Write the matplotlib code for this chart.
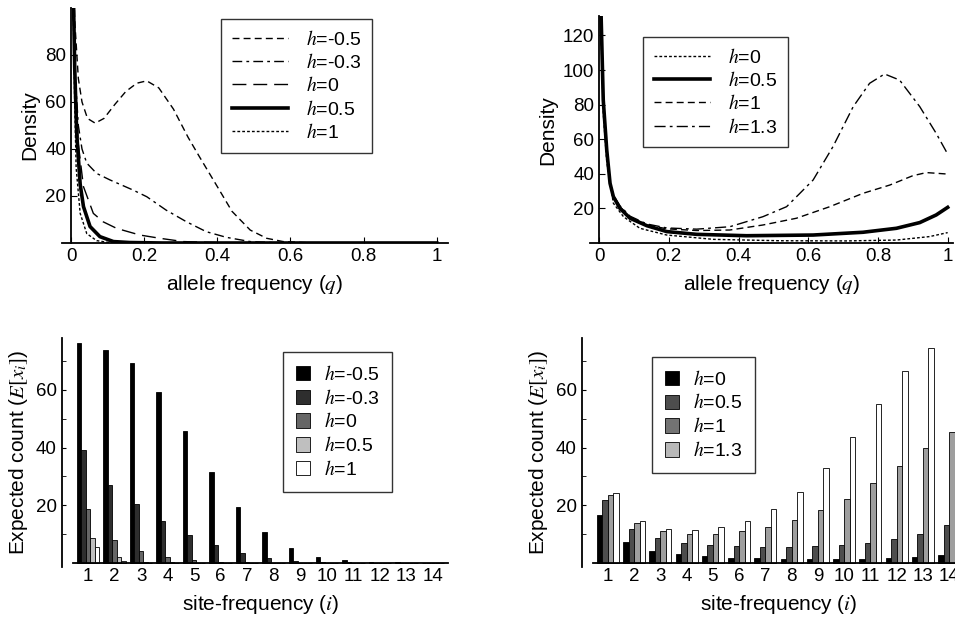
import numpy as np
import matplotlib
matplotlib.use("Agg")
import matplotlib.pyplot as plt
from matplotlib.patches import Patch

plt.rcParams['font.family'] = ['Liberation Sans', 'DejaVu Sans']
plt.rcParams['mathtext.fontset'] = 'stix'

# ---- top left: densities, h <= 1 ----
tl_labels = ["-0.5", "-0.3", "0", "0.5", "1"]
tl_q = {
    "-0.5": [0.002, 0.006, 0.01, 0.02, 0.03, 0.045, 0.066, 0.09, 0.12, 0.15, 0.18, 0.207,
             0.24, 0.28, 0.32, 0.35, 0.4, 0.44, 0.49, 0.535, 0.58, 0.65, 0.75, 1.0],
    "-0.3": [0.002, 0.006, 0.012, 0.02, 0.03, 0.043, 0.07, 0.107, 0.17, 0.207, 0.26,
             0.316, 0.37, 0.425, 0.49, 0.55, 0.65, 1.0],
    "0": [0.002, 0.006, 0.01, 0.02, 0.034, 0.061, 0.088, 0.125, 0.188, 0.243, 0.307,
          0.4, 0.5, 1.0],
    "0.5": [0.002, 0.006, 0.01, 0.0155, 0.025, 0.034, 0.052, 0.079, 0.116, 0.16, 0.25, 1.0],
    "1": [0.002, 0.006, 0.01, 0.014, 0.025, 0.043, 0.07, 0.1, 0.15, 1.0],
}
tl_d = {
    "-0.5": [160, 120, 95, 70, 60, 53, 51, 53, 59, 64.5, 68, 69,
             66, 57, 45, 37, 24, 13.5, 5.5, 2, 0.6, 0.1, 0, 0],
    "-0.3": [160, 110, 70, 50, 40, 34, 29.6, 26.8, 22.5, 19.7, 14,
             9, 4.8, 2.4, 0.6, 0.2, 0, 0],
    "0": [160, 110, 75, 42, 24, 12.6, 9, 6.2, 3.4, 2, 0.6, 0.2, 0, 0],
    "0.5": [160, 110, 75, 46.7, 25, 15.5, 7, 2.7, 0.6, 0.2, 0, 0],
    "1": [160, 100, 60, 32, 12.6, 4, 1, 0.3, 0, 0],
}

# ---- top right: densities, h >= 0 ----
tr_labels = ["0", "0.5", "1", "1.3"]
tr_q = {
    "0": [0.002, 0.006, 0.012, 0.022, 0.041, 0.07, 0.117, 0.194, 0.328, 0.519, 0.71,
          0.853, 0.948, 1.0],
    "0.5": [0.002, 0.006, 0.012, 0.022, 0.0315, 0.041, 0.06, 0.089, 0.137, 0.194, 0.28,
            0.423, 0.614, 0.757, 0.853, 0.92, 0.967, 1.0],
    "1": [0.002, 0.006, 0.012, 0.022, 0.0315, 0.041, 0.06, 0.089, 0.137, 0.194, 0.28,
          0.375, 0.47, 0.566, 0.662, 0.757, 0.834, 0.9, 0.939, 0.996],
    "1.3": [0.002, 0.006, 0.012, 0.022, 0.0315, 0.041, 0.06, 0.089, 0.137, 0.194, 0.28,
            0.375, 0.47, 0.538, 0.614, 0.671, 0.729, 0.776, 0.819, 0.862, 0.92, 0.967, 1.0],
}
tr_d = {
    "0": [180, 120, 75, 47, 23, 15.2, 8.5, 4.6, 2.1, 1.3, 1.2, 1.7, 3.7, 6],
    "0.5": [200, 130, 82.7, 53.8, 34.5, 26.8, 20, 14.3, 10, 6.6, 5,
            4.2, 4.6, 6.2, 8.5, 11.8, 16.2, 20.6],
    "1": [200, 130, 83, 54.5, 35, 27.5, 21, 15, 10.5, 8.2, 7.2,
          7.5, 10.4, 14.3, 21, 28.7, 33.5, 38.9, 40.7, 39.9],
    "1.3": [200, 130, 83, 54.5, 35, 27.5, 21.5, 15.5, 11, 8.7, 8,
            9.4, 15.2, 21, 36.4, 55.7, 78.8, 92.3, 97.7, 94.2, 78.8, 63.4, 51.4],
}

# ---- bottom: expected site-frequency counts ----
sites = np.arange(1, 15)
bl_labels = ["-0.5", "-0.3", "0", "0.5", "1"]
bl_counts = {
    "-0.5": [76.4, 73.7, 69.3, 59.2, 45.7, 31.5, 19.5, 10.9, 5.3, 2.2, 1.0, 0.4, 0.2, 0.1],
    "-0.3": [39.0, 26.9, 20.3, 14.7, 9.7, 6.3, 3.5, 1.6, 0.8, 0.4, 0.2, 0.1, 0.05, 0.02],
    "0": [18.8, 8.0, 4.1, 2.2, 1.0, 0.5, 0.2, 0.1, 0.05, 0.02, 0.01, 0, 0, 0],
    "0.5": [8.8, 2.0, 0.5, 0.3, 0.1, 0.05, 0.02, 0, 0, 0, 0, 0, 0, 0],
    "1": [5.7, 0.8, 0.1, 0.02, 0, 0, 0, 0, 0, 0, 0, 0, 0, 0],
}
br_labels = ["0", "0.5", "1", "1.3"]
br_counts = {
    "0": [16.7, 7.2, 4.3, 3.0, 2.3, 1.9, 1.6, 1.5, 1.5, 1.5, 1.5, 1.7, 2.1, 2.7],
    "0.5": [21.8, 11.8, 8.6, 7.0, 6.3, 5.8, 5.6, 5.6, 5.9, 6.3, 7.0, 8.3, 10.1, 13.1],
    "1": [23.5, 14.0, 11.2, 10.1, 10.1, 11.1, 12.4, 14.8, 18.2, 22.3, 27.6, 33.7, 39.7, 45.3],
    "1.3": [24.2, 14.5, 11.9, 11.5, 12.4, 14.7, 18.6, 24.7, 33.1, 43.6, 55.1, 66.4, 74.4, 76.6],
}

TICK_FS = 13.5
LABEL_FS = 15
LEG_FS = 14


def hlab(v):
    return r"$h$=" + v


def style_axes(ax):
    for s in ["top", "right"]:
        ax.spines[s].set_visible(False)
    ax.spines["left"].set_position(("data", 0))
    ax.spines["bottom"].set_position(("data", 0))
    ax.spines["left"].set_linewidth(1.3)
    ax.spines["bottom"].set_linewidth(1.3)
    ax.tick_params(labelsize=TICK_FS, direction="in", length=4, width=0.8)


def line_legend(ax, x, y, handles=None, labels=None):
    kw = dict(loc="upper left", bbox_to_anchor=(x / 955, 1 - y / 630),
              bbox_transform=fig.transFigure, fontsize=LEG_FS, frameon=True,
              fancybox=False, edgecolor="k", handlelength=2.9, handletextpad=0.9,
              labelspacing=0.22, borderpad=0.55, borderaxespad=0)
    leg = ax.legend(**kw) if handles is None else ax.legend(handles, labels, **kw)
    leg.get_frame().set_linewidth(1.0)


def box_legend(ax, x, y, handles=None, labels=None):
    kw = dict(loc="upper left", bbox_to_anchor=(x / 955, 1 - y / 630),
              bbox_transform=fig.transFigure, fontsize=LEG_FS, frameon=True,
              fancybox=False, edgecolor="k", handlelength=0.75, handleheight=0.75,
              handletextpad=0.7, labelspacing=0.25, borderpad=0.65, borderaxespad=0)
    leg = ax.legend(**kw) if handles is None else ax.legend(handles, labels, **kw)
    leg.get_frame().set_linewidth(1.0)


fig = plt.figure(figsize=(9.55, 6.3), dpi=100)

# top left
ax1 = fig.add_axes([0.0648, 0.6143, 0.404, 0.373])
tl_styles = {
    "-0.5": dict(color="k", lw=1.0, dashes=(5, 3)),
    "-0.3": dict(color="k", lw=1.0, dashes=(7, 3, 2, 3)),
    "0": dict(color="k", lw=1.0, dashes=(10, 5)),
    "0.5": dict(color="k", lw=2.6),
    "1": dict(color="k", lw=1.0, dashes=(2, 1.5)),
}
for lab in tl_labels:
    ax1.plot(tl_q[lab], tl_d[lab], label=hlab(lab), **tl_styles[lab])
ax1.set_xlim(-0.025, 1.03)
ax1.set_ylim(0, 100)
style_axes(ax1)
ax1.set_xticks([0, 0.2, 0.4, 0.6, 0.8, 1])
ax1.set_xticklabels(["0", "0.2", "0.4", "0.6", "0.8", "1"])
ax1.set_yticks([20, 40, 60, 80])
ax1.set_xlabel(r"allele frequency ($q$)", fontsize=LABEL_FS, labelpad=6)
ax1.set_ylabel("Density", fontsize=LABEL_FS, labelpad=4)
line_legend(ax1, 221, 19)

# top right
ax2 = fig.add_axes([0.6178, 0.6143, 0.380, 0.3597])
tr_styles = {
    "0": dict(color="k", lw=1.0, dashes=(2, 1.5)),
    "0.5": dict(color="k", lw=2.6),
    "1": dict(color="k", lw=1.0, dashes=(5, 3)),
    "1.3": dict(color="k", lw=1.0, dashes=(8, 3, 2, 3)),
}
for lab in tr_labels:
    ax2.plot(tr_q[lab], tr_d[lab], label=hlab(lab), **tr_styles[lab])
ax2.set_xlim(-0.026, 1.015)
ax2.set_ylim(0, 131)
style_axes(ax2)
ax2.set_xticks([0, 0.2, 0.4, 0.6, 0.8, 1])
ax2.set_xticklabels(["0", "0.2", "0.4", "0.6", "0.8", "1"])
ax2.set_yticks([20, 40, 60, 80, 100, 120])
ax2.set_xlabel(r"allele frequency ($q$)", fontsize=LABEL_FS, labelpad=6)
ax2.set_ylabel("Density", fontsize=LABEL_FS, labelpad=4)
line_legend(ax2, 643, 37)

# bottom left
ax3 = fig.add_axes([0.0764, 0.0995, 0.3927, 0.364])
bl_colors = ["black", "0.18", "0.4", "0.75", "white"]
bw = 0.17
for k, lab in enumerate(bl_labels):
    off = (k - 2) * bw
    ax3.bar(sites + off, bl_counts[lab], width=bw, color=bl_colors[k],
            edgecolor="k", linewidth=0.6, label=hlab(lab))
ax3.set_xlim(0.43, 14.57)
ax3.set_ylim(-1.5, 78)
style_axes(ax3)
ax3.set_xticks(sites)
ax3.tick_params(axis="x", length=0)
ax3.set_yticks([20, 40, 60])
ax3.set_yticks([10, 30, 50, 70], minor=True)
ax3.tick_params(axis="y", which="both", direction="in", length=3)
ax3.set_xlabel(r"site-frequency ($i$)", fontsize=LABEL_FS, labelpad=6)
ax3.set_ylabel(r"Expected count ($E[x_i]$)", fontsize=LABEL_FS, labelpad=4)
box_legend(ax3, 283, 352)

# bottom right
ax4 = fig.add_axes([0.6206, 0.0995, 0.3897, 0.364])
br_colors = ["black", "0.3", "0.62", "white"]
br_leg_colors = ["black", "0.3", "0.45", "0.72"]
bw = 0.21
for k, lab in enumerate(br_labels):
    off = (k - 1.5) * bw
    ax4.bar(sites + off, br_counts[lab], width=bw, color=br_colors[k],
            edgecolor="k", linewidth=0.6)
ax4.set_xlim(0.42, 14.6)
ax4.set_ylim(-1.5, 78)
style_axes(ax4)
ax4.set_xticks(sites)
ax4.tick_params(axis="x", length=0)
ax4.set_yticks([20, 40, 60])
ax4.set_yticks([10, 30, 50, 70], minor=True)
ax4.tick_params(axis="y", which="both", direction="in", length=3)
ax4.set_xlabel(r"site-frequency ($i$)", fontsize=LABEL_FS, labelpad=6)
ax4.set_ylabel(r"Expected count ($E[x_i]$)", fontsize=LABEL_FS, labelpad=4)
handles = [Patch(facecolor=c, edgecolor="k", linewidth=0.6) for c in br_leg_colors]
box_legend(ax4, 652, 357, handles, [hlab(l) for l in br_labels])

fig.savefig("out.png", dpi=100)
